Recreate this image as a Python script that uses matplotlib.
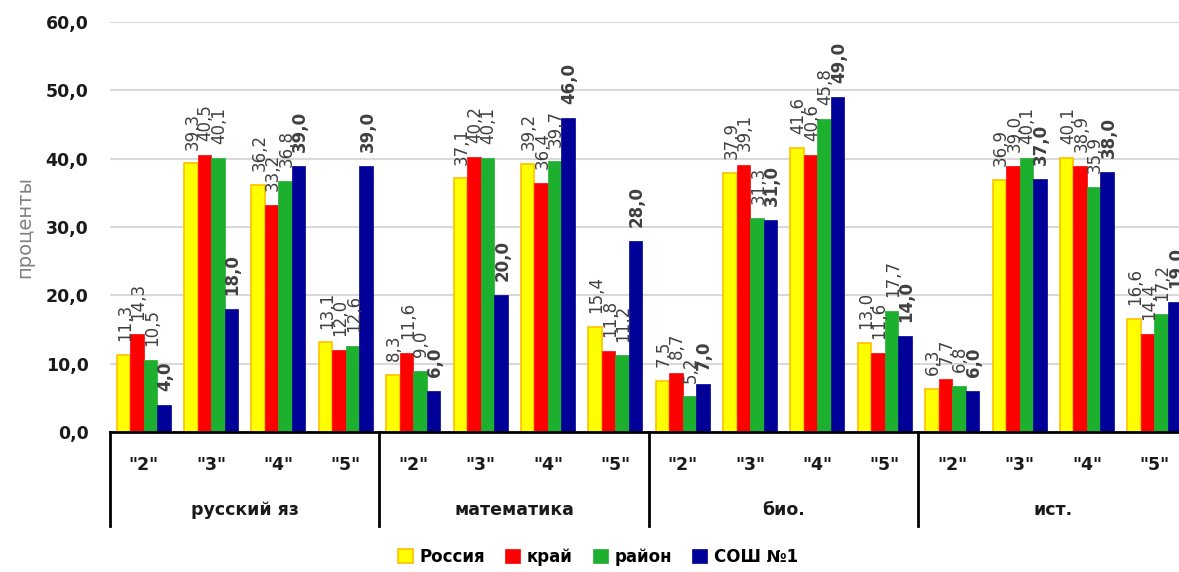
import matplotlib
matplotlib.use('Agg')
import matplotlib.pyplot as plt
import numpy as np

# data
subjects = ['русский яз', 'математика', 'био.', 'ист.']
grades = ['"2"', '"3"', '"4"', '"5"']
series_names = ['Россия', 'край', 'район', 'СОШ №1']

russia = [11.3, 39.3, 36.2, 13.1,
          8.3, 37.1, 39.2, 15.4,
          7.5, 37.9, 41.6, 13.0,
          6.3, 36.9, 40.1, 16.6]
krai = [14.3, 40.5, 33.2, 12.0,
        11.6, 40.2, 36.4, 11.8,
        8.7, 39.1, 40.6, 11.6,
        7.7, 39.0, 38.9, 14.4]
raion = [10.5, 40.1, 36.8, 12.6,
         9.0, 40.1, 39.7, 11.2,
         5.2, 31.3, 45.8, 17.7,
         6.8, 40.1, 35.9, 17.2]
school = [4.0, 18.0, 39.0, 39.0,
          6.0, 20.0, 46.0, 28.0,
          7.0, 31.0, 49.0, 14.0,
          6.0, 37.0, 38.0, 19.0]

face_colors = ['#FFFF00', '#FF0000', '#1DB02E', '#000099']
edge_colors = ['#FFC000', '#FF0000', '#1DB02E', '#000099']

plt.rcParams['font.family'] = ['DejaVu Sans']

W, H = 1179, 572
fig = plt.figure(figsize=(W / 100, H / 100), dpi=100)
left, right, top, bottom = 110, 1188, 22, 432
ax = fig.add_axes([left / W, 1 - bottom / H, (right - left) / W, (bottom - top) / H])

n = len(russia)
x = np.arange(n)
width = 0.2
offsets = [-0.3, -0.1, 0.1, 0.3]
all_series = [russia, krai, raion, school]

for k, vals in enumerate(all_series):
    bars = ax.bar(x + offsets[k], vals, width, color=face_colors[k],
                  edgecolor=edge_colors[k], linewidth=1.2 if k == 0 else 0.5,
                  label=series_names[k], zorder=3)
    for xi, v in zip(x + offsets[k], vals):
        lbl = '{:.1f}'.format(v).replace('.', ',')
        ax.annotate(lbl, (xi, v), xytext=(1, 10), textcoords='offset points',
                    rotation=90, ha='center', va='bottom', fontsize=12,
                    color='#404040',
                    fontweight='bold' if k == 3 else 'normal',
                    zorder=4, annotation_clip=False)

ax.set_xlim(-0.5, n - 0.5)
ax.set_ylim(0, 60)
ax.set_yticks(np.arange(0, 61, 10))
ax.set_yticklabels(['{:.1f}'.format(t).replace('.', ',') for t in np.arange(0, 61, 10)],
                   fontsize=12.5, fontweight='bold', color='#1a1a1a')
ax.tick_params(axis='y', length=0, pad=15.5)
ax.set_xticks([])
ax.grid(axis='y', color='#D9D9D9', linewidth=1.5, zorder=0)
for s in ['top', 'right', 'left']:
    ax.spines[s].set_visible(False)
ax.spines['bottom'].set_linewidth(2)
ax.spines['bottom'].set_color('black')
ax.spines['bottom'].set_zorder(5)

ax.set_ylabel('проценты', fontsize=14, color='#808080', labelpad=8)

# category axis: grades and subject groups
axh = bottom - top
trans = ax.get_xaxis_transform()
for i in range(n):
    ax.text(i, -33 / axh, grades[i % 4], transform=trans, ha='center', va='center',
            fontsize=12.5, fontweight='bold', color='#1a1a1a')
for g, name in enumerate(subjects):
    ax.text(g * 4 + 1.5, -78 / axh, name, transform=trans, ha='center', va='center',
            fontsize=12.5, fontweight='bold', color='#1a1a1a')
for g in range(len(subjects) + 1):
    ax.plot([g * 4 - 0.5, g * 4 - 0.5], [0, -94 / axh], transform=trans,
            color='black', linewidth=2, clip_on=False)

leg = fig.legend(loc='center', bbox_to_anchor=(0.507, 0.026), ncol=4, frameon=False,
                 handlelength=0.9, handleheight=0.9, handletextpad=0.4,
                 columnspacing=1.2, prop={'size': 12, 'weight': 'bold'})

fig.savefig('out.png', dpi=100)
